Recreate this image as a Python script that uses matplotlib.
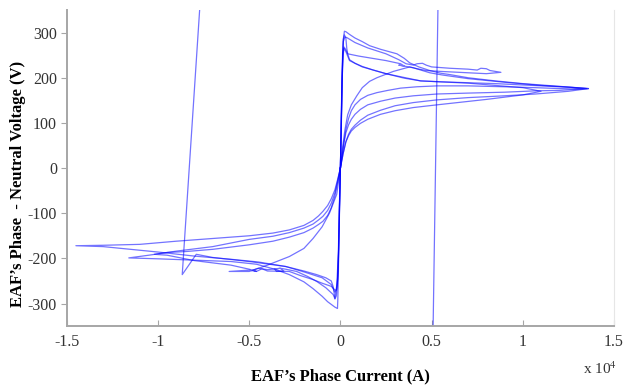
import numpy as np
import matplotlib
matplotlib.use("Agg")
import matplotlib.pyplot as plt

# phase current in units of 1e4 A, voltage in V
cycA_cur = [0.0, 0.003, 0.006, 0.009, 0.012, 0.016, 0.022, 0.03, 0.035, 0.04, 0.05, 0.08, 0.12, 0.18, 0.25, 0.35,
            0.44, 0.55, 0.7, 0.85, 1.0, 1.15, 1.25, 1.36,
            1.3, 1.2, 1.07, 0.9, 0.7, 0.53, 0.42, 0.33, 0.26, 0.2, 0.15, 0.11, 0.08, 0.06, 0.045, 0.03, 0.02, 0.01, 0.0,
            -0.004, -0.008, -0.012, -0.016, -0.022, -0.03, -0.035, -0.04, -0.05, -0.08, -0.13, -0.2, -0.3, -0.45,
            -0.6, -0.8, -1.0, -1.2, -1.3, -1.45,
            -1.3, -1.1, -0.9, -0.7, -0.5, -0.37, -0.28, -0.2, -0.15, -0.12, -0.096, -0.07, -0.05, -0.03, -0.015, 0.0]
cycA_volt = [0, 60, 130, 200, 255, 285, 295, 288, 265, 253, 240, 232, 225, 217, 209, 199,
             193, 191, 189, 187, 184, 181, 179, 176,
             175, 176, 178, 180, 182, 182, 180, 177, 172, 167, 161, 152, 140, 127, 110, 85, 60, 30, 0,
             -60, -130, -200, -255, -283, -290, -275, -262, -250, -243, -236, -228, -218, -208,
             -202, -195, -186, -178, -174, -172,
             -171, -169, -162, -156, -150, -144, -137, -127, -116, -106, -96, -83, -68, -48, -25, 0]

cycB_cur = [0.0, 0.004, 0.008, 0.012, 0.016, 0.022, 0.03, 0.05, 0.08, 0.12, 0.16, 0.22, 0.31, 0.35, 0.38, 0.43,
            0.49, 0.55, 0.6, 0.7, 0.85, 1.0, 1.2, 1.35,
            1.2, 1.07, 0.9, 0.7, 0.53, 0.4, 0.3, 0.22, 0.15, 0.11, 0.08, 0.06, 0.045, 0.03, 0.02, 0.01, 0.0,
            -0.004, -0.008, -0.011, -0.014, -0.016, -0.03, -0.05, -0.07, -0.1, -0.15, -0.2, -0.28, -0.36, -0.46,
            -0.6, -0.8, -1.0, -1.16,
            -1.05, -0.9, -0.7, -0.5, -0.37, -0.28, -0.2, -0.15, -0.12, -0.096, -0.07, -0.05, -0.03, -0.015, 0.0]
cycB_volt = [0, 70, 150, 230, 285, 303, 302, 296, 288, 280, 271, 263, 253, 243, 233, 224,
             216, 210, 207, 200, 193, 187, 181, 176,
             172, 171, 168, 166, 164, 160, 155, 148, 140, 130, 119, 108, 96, 78, 56, 28, 0,
             -70, -150, -230, -290, -311, -308, -302, -296, -284, -267, -252, -236, -224, -213,
             -207, -204, -201, -199,
             -193, -184, -174, -158, -151, -143, -133, -124, -115, -107, -94, -78, -55, -28, 0]

cycC_cur = [0.0, 0.004, 0.008, 0.012, 0.016, 0.025, 0.035, 0.08, 0.15, 0.25, 0.32, 0.36, 0.4, 0.42, 0.45, 0.47,
            0.5, 0.6, 0.7, 0.75, 0.77, 0.8, 0.82, 0.88,
            0.8, 0.65, 0.55, 0.47, 0.42, 0.38, 0.29, 0.2, 0.16, 0.12, 0.09, 0.06, 0.04, 0.025, 0.01, 0.0,
            -0.005, -0.01, -0.02, -0.03, -0.04, -0.08, -0.13, -0.18, -0.24, -0.3, -0.33, -0.36, -0.35, -0.31, -0.33,
            -0.4, -0.45, -0.48, -0.46, -0.5, -0.6, -0.8, -0.95, -1.02,
            -0.95, -0.85, -0.7, -0.5, -0.37, -0.28, -0.2, -0.15, -0.12, -0.096, -0.07, -0.05, -0.03, -0.015, 0.0]
cycC_volt = [0, 80, 170, 240, 280, 290, 289, 278, 266, 253, 240, 231, 228, 231, 232, 228,
             224, 221, 219, 217, 221, 220, 216, 212,
             209, 212, 214, 216, 220, 224, 214, 200, 192, 178, 160, 140, 118, 85, 40, 0,
             -80, -180, -260, -289, -280, -265, -251, -240, -229, -224, -222, -224, -229, -228, -222,
             -225, -222, -226, -229, -224, -215, -205, -193, -191,
             -187, -185, -180, -170, -162, -153, -143, -133, -125, -118, -105, -88, -62, -32, 0]

cycD_cur = [0.0, 0.004, 0.008, 0.014, 0.02, 0.03, 0.04, 0.1, 0.16, 0.25, 0.33, 0.35, 0.32, 0.4, 0.49, 0.56,
            0.7, 0.9, 1.1, 1.3, 1.36,
            1.25, 1.07, 0.9, 0.7, 0.53, 0.4, 0.3, 0.22, 0.15, 0.11, 0.08, 0.06, 0.045, 0.03, 0.015, 0.0,
            -0.005, -0.01, -0.016, -0.022, -0.03, -0.05, -0.1, -0.15, -0.22, -0.28, -0.4, -0.43, -0.46, -0.5, -0.61,
            -0.5, -0.4, -0.28, -0.2, -0.15, -0.1, -0.06, -0.02, 0.0]
cycD_volt = [0, 90, 190, 255, 268, 262, 253, 248, 244, 238, 231, 226, 228, 222, 211, 206,
             198, 190, 183, 178, 176,
             170, 164, 160, 156, 151, 145, 138, 128, 117, 106, 95, 86, 75, 58, 32, 0,
             -90, -190, -250, -270, -270, -262, -255, -247, -238, -229, -228, -223, -229, -226, -229,
             -229, -215, -196, -178, -156, -130, -100, -58, 0]

cycE_cur = [0.0, 0.005, 0.01, 0.015, 0.02, 0.03, 0.05, 0.12, 0.25, 0.44, 0.7, 1.0, 1.1,
            1.0, 0.8, 0.53, 0.4, 0.3, 0.22, 0.15, 0.11, 0.08, 0.06, 0.045, 0.03, 0.015, 0.0,
            -0.006, -0.012, -0.02, -0.03, -0.05, -0.1, -0.2, -0.3, -0.5, -0.7, -0.79, -0.867, -0.77]
cycE_volt = [0, 100, 200, 250, 265, 258, 238, 224, 209, 193, 188, 178, 170,
             162, 152, 140, 134, 127, 119, 108, 99, 90, 82, 72, 58, 32, 0,
             -120, -230, -268, -275, -258, -243, -230, -218, -207, -198, -191, -236, 360]

spike_cur = [0.508, 0.535]
spike_volt = [-360, 360]

cycles = [(cycA_cur, cycA_volt), (cycB_cur, cycB_volt), (cycC_cur, cycC_volt),
          (cycD_cur, cycD_volt), (cycE_cur, cycE_volt), (spike_cur, spike_volt)]

xticks = [-1.5, -1, -0.5, 0, 0.5, 1, 1.5]
xtick_labels = ["-1.5", "-1", "-0.5", "0", "0.5", "1", "1.5"]
yticks = [-300, -200, -100, 0, 100, 200, 300]

plt.rcParams['font.family'] = ['Liberation Serif', 'DejaVu Serif']
plt.rcParams['mathtext.fontset'] = 'stix'
plt.rcParams['axes.unicode_minus'] = False

fig = plt.figure(figsize=(6.24, 3.85), dpi=100)
ax = fig.add_axes([0.107, 0.153, 0.877, 0.821])

for cur, volt in cycles:
    ax.plot(cur, volt, color='#0000ff', lw=0.9, alpha=0.55)

ax.set_xlim(-1.5, 1.5)
ax.set_ylim(-350, 350)
ax.set_xticks(xticks)
ax.set_xticklabels(xtick_labels)
ax.set_yticks(yticks)

for s in ['left', 'bottom']:
    ax.spines[s].set_color('#a6a6a6')
    ax.spines[s].set_linewidth(1.4)
ax.spines['right'].set_color('#e6e6e6')
ax.spines['top'].set_visible(False)

ax.tick_params(axis='y', direction='out', length=4, color='#a6a6a6', labelsize=11.5, pad=3, labelcolor='#333333')
ax.tick_params(axis='x', direction='in', length=4, color='#a6a6a6', labelsize=11.5, pad=6, labelcolor='#333333')

ax.set_xlabel("EAF\u2019s Phase Current (A)", fontsize=12, fontweight='bold', labelpad=13)
ax.set_ylabel("EAF\u2019s Phase  - Neutral Voltage (V)", fontsize=12, fontweight='bold')
ax.yaxis.set_label_coords(-0.074, 0.45)
fig.text(0.962, 0.028, "x 10$^4$", fontsize=11, ha='center', color='#333333')

fig.savefig("out.png", dpi=100)
